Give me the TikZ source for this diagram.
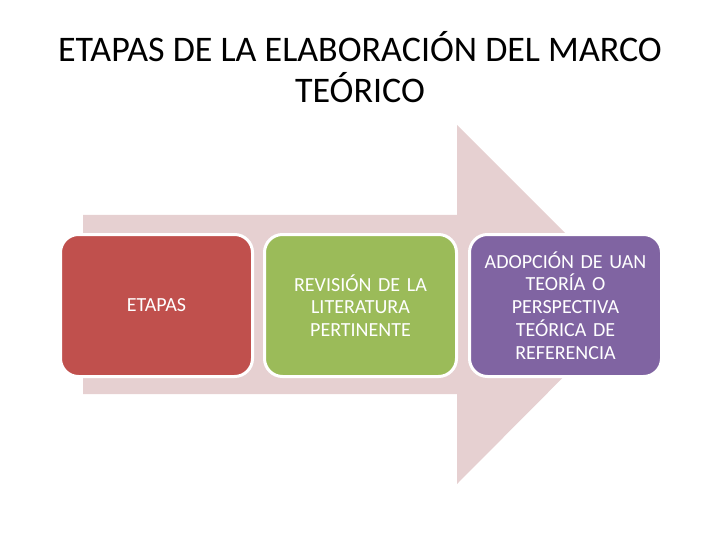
\documentclass[tikz,border=0pt]{standalone}
\usepackage{fontspec}
\setmainfont{Carlito}
\definecolor{arrowc}{HTML}{E6D0D1}
\definecolor{redc}{HTML}{C0504D}
\definecolor{greenc}{HTML}{9BBB59}
\definecolor{purplec}{HTML}{8064A2}
\begin{document}
\begin{tikzpicture}[x=1pt,y=-1pt,
  stagebox/.style={draw=white,line width=3pt,rounded corners=18pt,minimum width=192pt,minimum height=142pt,
    text=white,align=center,text width=185pt,font=\fontsize{20}{22.8}\selectfont,anchor=north west,inner sep=0pt}]
\useasboundingbox (0,0) rectangle (720,540);
\fill[arrowc] (83,215) -- (457,215) -- (457,125) -- (636,304) -- (457,484) -- (457,394) -- (83,394) -- cycle;
\node[font=\fontsize{36}{41}\selectfont,align=center] (title) at (360,67) {ETAPAS DE LA ELABORACIÓN DEL MARCO\\TEÓRICO};
\node[stagebox,fill=redc] (s1) at (59,233) {ETAPAS};
\node[stagebox,fill=greenc] (s2) at (263,233) {REVISIÓN DE LA\\LITERATURA\\PERTINENTE};
\node[stagebox,fill=purplec] (s3) at (468,233) {ADOPCIÓN DE UAN\\TEORÍA O\\PERSPECTIVA\\TEÓRICA DE\\REFERENCIA};
\end{tikzpicture}
\end{document}
